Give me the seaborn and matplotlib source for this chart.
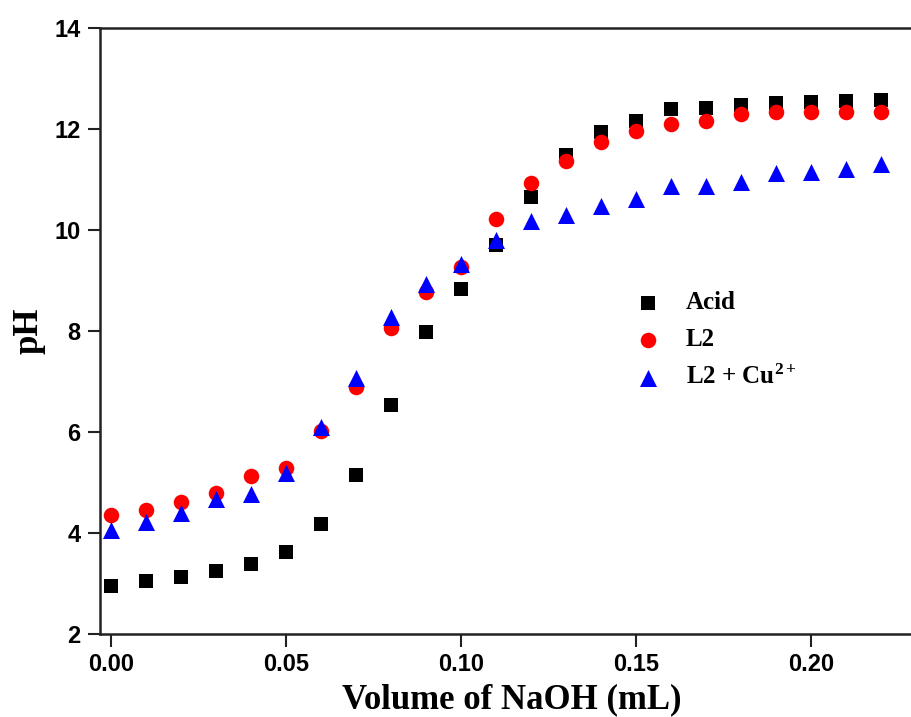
import numpy as np
import pandas as pd
import matplotlib
matplotlib.use("Agg")
import matplotlib.pyplot as plt
import seaborn as sns

volume = [0.00, 0.01, 0.02, 0.03, 0.04, 0.05, 0.06, 0.07, 0.08, 0.09, 0.10, 0.11,
          0.12, 0.13, 0.14, 0.15, 0.16, 0.17, 0.18, 0.19, 0.20, 0.21, 0.22]
ph_acid = [2.95, 3.05, 3.13, 3.25, 3.39, 3.62, 4.18, 5.15, 6.53, 7.98, 8.83, 9.70,
           10.66, 11.49, 11.95, 12.16, 12.40, 12.42, 12.48, 12.51, 12.54, 12.56, 12.57]
ph_l2 = [4.36, 4.46, 4.61, 4.79, 5.12, 5.29, 6.01, 6.90, 8.05, 8.78, 9.27, 10.21,
         10.94, 11.37, 11.74, 11.97, 12.09, 12.16, 12.29, 12.34, 12.34, 12.34, 12.34]
ph_l2cu = [4.06, 4.21, 4.40, 4.68, 4.78, 5.18, 6.10, 7.06, 8.28, 8.93, 9.32, 9.81,
           10.18, 10.30, 10.48, 10.61, 10.87, 10.88, 10.96, 11.13, 11.15, 11.20, 11.30]
series_labels = ["Acid", "L2", "L2 + Cu$^{2+}$"]
x_ticks = [0.00, 0.05, 0.10, 0.15, 0.20]
y_ticks = [2, 4, 6, 8, 10, 12, 14]

sns.set_theme(style="ticks")
plt.rcParams["font.family"] = ["Liberation Serif", "DejaVu Serif"]
plt.rcParams["mathtext.fontset"] = "custom"
plt.rcParams["mathtext.rm"] = "Liberation Serif:bold"
plt.rcParams["mathtext.it"] = "Liberation Serif:bold"
plt.rcParams["mathtext.bf"] = "Liberation Serif:bold"
plt.rcParams["text.color"] = "black"
plt.rcParams["axes.labelcolor"] = "black"
plt.rcParams["xtick.color"] = "black"
plt.rcParams["ytick.color"] = "black"

fig = plt.figure(figsize=(9.12, 7.17), dpi=100)
W, H = 912, 717
left, right, top, bottom = 100, 924, 28, 634
ax = fig.add_axes([left / W, 1 - bottom / H, (right - left) / W, (bottom - top) / H])

df = pd.DataFrame({"x": volume, "acid": ph_acid, "l2": ph_l2, "cu": ph_l2cu})
sns.scatterplot(data=df, x="x", y="acid", ax=ax, marker="s", color="black",
                s=95, linewidth=0, label=series_labels[0])
sns.scatterplot(data=df, x="x", y="l2", ax=ax, marker="o", color="#ff0000",
                s=125, linewidth=0, label=series_labels[1])
sns.scatterplot(data=df, x="x", y="cu", ax=ax, marker="^", color="#0000ff",
                s=150, linewidth=0, label=series_labels[2])

ax.set_xlim((left - 111) / 3500, (right - 111) / 3500)
ax.set_ylim(2, 14)
ax.set_xticks(x_ticks)
ax.set_yticks(y_ticks)
ax.set_xticklabels([f"{t:.2f}" for t in x_ticks])
ax.set_yticklabels([str(t) for t in y_ticks])
for lab in ax.get_xticklabels() + ax.get_yticklabels():
    lab.set_fontfamily("Liberation Sans")
    lab.set_fontweight("bold")
    lab.set_fontsize(17)
    lab.set_color("black")
ax.tick_params(axis="both", direction="out", length=9, width=1.5, color="#222222", pad=5)

for side in ["left", "bottom", "top"]:
    ax.spines[side].set_linewidth(1.8)
    ax.spines[side].set_color("#222222")
ax.spines["right"].set_visible(False)

ax.set_xlabel("Volume of NaOH (mL)", fontsize=25, fontweight="bold", labelpad=5)
ax.set_ylabel("pH", fontsize=25, fontweight="bold", labelpad=6)

handles, labels = ax.get_legend_handles_labels()
ax.legend(handles, labels, loc="upper left", bbox_to_anchor=(611 / W, 1 - 269 / H),
          bbox_transform=fig.transFigure, frameon=False,
          prop={"weight": "bold", "size": 18, "family": "Liberation Serif"},
          handletextpad=0.9, labelspacing=0.55, markerscale=1.0, handlelength=1.2)

fig.savefig("out.png", dpi=100)
